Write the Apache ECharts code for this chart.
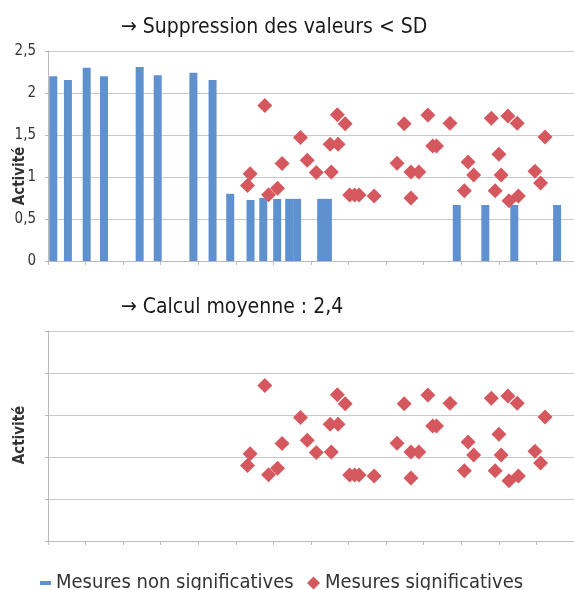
<!DOCTYPE html>
<html>
<head>
<meta charset="utf-8">
<script src="https://cdn.jsdelivr.net/npm/echarts@6/dist/echarts.min.js"></script>
<style>
html,body{margin:0;padding:0;background:#fff;}
#c{width:574px;height:590px;}
</style>
</head>
<body>
<div id="c"></div>
<script>
// ---- data (x in axis units: 10 units per x tick) ----
var barX = [1.4, 5.3, 10.3, 14.9, 24.4, 29.2, 38.7, 43.8, 48.5, 53.9, 57.3, 61.0, 64.2, 66.3, 72.7, 74.5, 108.8, 116.4, 124.1, 135.5];
var barY = [2.20, 2.155, 2.30, 2.20, 2.31, 2.21, 2.24, 2.155, 0.80, 0.726, 0.75, 0.738, 0.74, 0.74, 0.74, 0.74, 0.667, 0.667, 0.667, 0.667];
var ptX = [53.1, 53.8, 57.7, 58.7, 61.1, 62.3, 67.2, 69.0, 71.4, 75.1, 75.4, 77.0, 77.2, 79.1, 80.3, 81.6, 82.8, 86.8, 92.9, 94.8, 96.6, 96.6, 98.7, 101.1, 102.4, 103.4, 107.0, 110.8, 111.8, 113.3, 118.0, 119.0, 120.0, 120.6, 122.4, 122.7, 124.9, 125.2, 129.6, 131.1, 132.3];
var ptY = [0.90, 1.04, 1.85, 0.79, 0.865, 1.16, 1.47, 1.20, 1.055, 1.39, 1.06, 1.74, 1.39, 1.635, 0.786, 0.786, 0.786, 0.774, 1.163, 1.635, 0.75, 1.06, 1.06, 1.738, 1.37, 1.37, 1.64, 0.837, 1.18, 1.024, 1.70, 0.837, 1.27, 1.024, 1.726, 0.718, 1.64, 0.774, 1.068, 0.929, 1.476];
var yTicks = ['0', '0,5', '1', '1,5', '2', '2,5'];
var titles = ['\u2192 Suppression des valeurs < SD', '\u2192 Calcul moyenne : 2,4'];
var yName = 'Activit\u00e9';
var seriesNames = ['Mesures non significatives', 'Mesures significatives'];

var barData = barX.map(function (x, i) { return [x, barY[i]]; });
var ptData = ptX.map(function (x, i) { return [x, ptY[i]]; });

var BLUE = '#5F91CF', RED = '#D6585F', GRID = '#C8C8C8', AXIS = '#BBBBBB', TXT = '#333333';
var FONT = "'Liberation Sans Narrow','DejaVu Sans Condensed','Liberation Sans',sans-serif";

function xAxis(gi) {
  return {
    type: 'value', gridIndex: gi, min: 0, max: 140, interval: 10,
    axisLine: { show: true, lineStyle: { color: AXIS, width: 1 } },
    axisTick: { show: true, length: 4, lineStyle: { color: AXIS } },
    axisLabel: { show: false },
    splitLine: { show: false }
  };
}
function yAxis(gi, labels) {
  return {
    type: 'value', gridIndex: gi, min: 0, max: 2.5, interval: 0.5,
    axisLine: { show: true, lineStyle: { color: AXIS, width: 1 } },
    axisTick: { show: true, length: 3, lineStyle: { color: AXIS } },
    axisLabel: {
      show: labels, margin: 12, color: TXT, fontSize: 15, fontFamily: FONT,
      formatter: function (v) { return yTicks[Math.round(v * 2)]; }
    },
    splitLine: { show: true, lineStyle: { color: GRID, width: 1 } }
  };
}

var chart = echarts.init(document.getElementById('c'), null, { renderer: 'canvas' });
chart.setOption({
  animation: false,
  backgroundColor: '#fff',
  title: [
    { text: titles[0], left: 116, top: 12, textStyle: { fontSize: 21, fontWeight: 'normal', color: '#1a1a1a', fontFamily: FONT } },
    { text: titles[1], left: 116, top: 292, textStyle: { fontSize: 21, fontWeight: 'normal', color: '#1a1a1a', fontFamily: FONT } }
  ],
  grid: [
    { left: 48, top: 51, width: 528, height: 210 },
    { left: 48, top: 331, width: 528, height: 210 }
  ],
  xAxis: [xAxis(0), xAxis(1)],
  yAxis: [yAxis(0, true), yAxis(1, false)],
  legend: [
    { data: [seriesNames[0]], left: 35, top: 568, itemWidth: 11, itemHeight: 4, icon: 'rect',
      textStyle: { fontSize: 20, color: TXT, fontFamily: FONT } },
    { data: [seriesNames[1]], left: 302, top: 568, itemWidth: 13, itemHeight: 13, icon: 'diamond',
      textStyle: { fontSize: 20, color: TXT, fontFamily: FONT } }
  ],
  graphic: [
    { type: 'text', x: 20, y: 176, rotation: Math.PI / 2,
      style: { text: yName, fill: TXT, font: 'bold 15px ' + FONT, textAlign: 'center', textVerticalAlign: 'middle' } },
    { type: 'text', x: 20, y: 435, rotation: Math.PI / 2,
      style: { text: yName, fill: TXT, font: 'bold 15px ' + FONT, textAlign: 'center', textVerticalAlign: 'middle' } }
  ],
  series: [
    { name: seriesNames[0], type: 'bar', xAxisIndex: 0, yAxisIndex: 0, data: barData, barWidth: 8,
      itemStyle: { color: BLUE, opacity: 1 } },
    { name: seriesNames[1], type: 'scatter', xAxisIndex: 0, yAxisIndex: 0, data: ptData, symbol: 'diamond', symbolSize: 15,
      itemStyle: { color: RED, opacity: 1 } },
    { name: seriesNames[1], type: 'scatter', xAxisIndex: 1, yAxisIndex: 1, data: ptData, symbol: 'diamond', symbolSize: 15,
      itemStyle: { color: RED, opacity: 1 } }
  ]
});
</script>
</body>
</html>
